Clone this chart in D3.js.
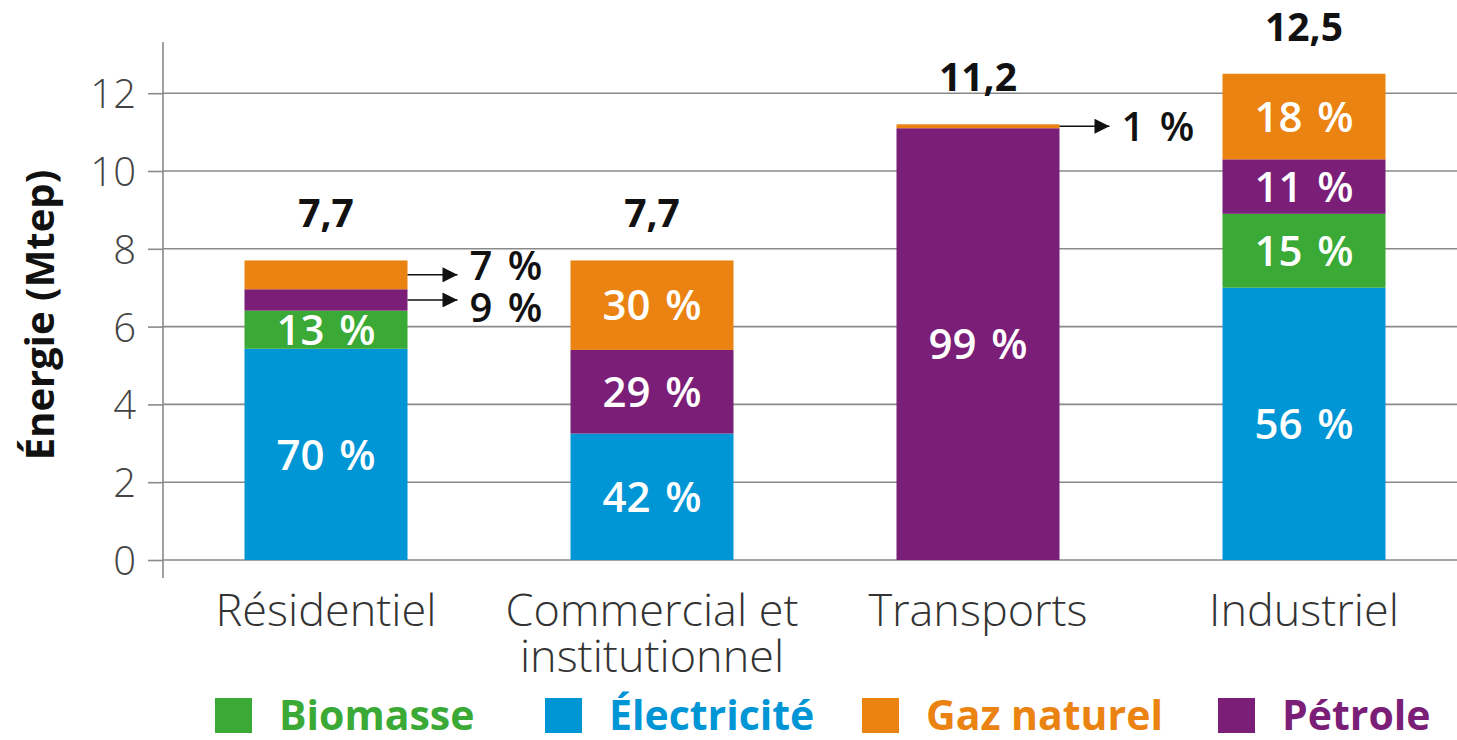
<!DOCTYPE html>
<html>
<head>
<meta charset="utf-8">
<script src="https://cdn.jsdelivr.net/npm/d3@7"></script>
<style>
  body { margin: 0; background: #fff; }
  svg { display: block; }
</style>
</head>
<body>
<div id="chart"></div>
<script>
// données (Mtep)
const categories = ["Résidentiel", "Commercial et institutionnel", "Transports", "Industriel"];
const electricite = [5.43, 3.25, 0, 7.0];
const biomasse = [0.98, 0, 0, 1.9];
const petrole = [0.55, 2.15, 11.1, 1.4];
const gazNaturel = [0.74, 2.3, 0.1, 2.2];
const totals = ["7,7", "7,7", "11,2", "12,5"];

const elecLabels = ["70 %", "42 %", "", "56 %"];
const bioLabels = ["13 %", "", "", "15 %"];
const petLabels = ["9 %", "29 %", "99 %", "11 %"];
const gazLabels = ["7 %", "30 %", "1 %", "18 %"];
// étiquettes placées à l'extérieur avec une flèche
const outsideLabels = [["Résidentiel", "gaz"], ["Résidentiel", "pet"], ["Transports", "gaz"]];

const yTicks = [0, 2, 4, 6, 8, 10, 12];

const seriesKeys = ["elec", "bio", "pet", "gaz"]; // bas -> haut
const seriesNames = { bio: "Biomasse", elec: "Électricité", gaz: "Gaz naturel", pet: "Pétrole" };
const legendOrder = ["bio", "elec", "gaz", "pet"];
const colors = { bio: "#3aa935", elec: "#0096d6", gaz: "#ea8311", pet: "#7b1e78" };
const labelsBySeries = { elec: elecLabels, bio: bioLabels, pet: petLabels, gaz: gazLabels };

//=============================
//  dimensions
//=============================
const width = 1457, height = 740;
const x0 = 163, yBase = 560;

const svg = d3.select("#chart").append("svg")
  .attr("width", width).attr("height", height);

const table = categories.map((c, i) => ({
  cat: c, elec: electricite[i], bio: biomasse[i], pet: petrole[i], gaz: gazNaturel[i]
}));

const stacked = d3.stack().keys(seriesKeys)(table);

const x = d3.scaleBand()
  .domain(categories)
  .range([x0, x0 + 1304])
  .paddingInner(0.5)
  .paddingOuter(0.25);

const y = d3.scaleLinear()
  .domain([0, 12])
  .range([yBase, yBase - 12 * 38.9]);

//============ grille + axe Y ============
const yAxis = svg.append("g")
  .attr("transform", `translate(${x0},0)`)
  .call(d3.axisLeft(y).tickValues(yTicks).tickSize(15).tickPadding(12).tickFormat(d3.format("d")));
yAxis.select(".domain").remove();
yAxis.selectAll(".tick line").attr("stroke", "#8a8a8a").attr("stroke-width", 1.6);
yAxis.selectAll(".tick text")
  .attr("fill", "#444")
  .style("font-family", "'Open Sans', sans-serif")
  .style("font-weight", 300)
  .style("font-size", "40px")
  .attr("dy", "0.36em");

svg.append("g")
  .selectAll("line")
  .data(yTicks)
  .join("line")
  .attr("x1", x0).attr("x2", width)
  .attr("y1", d => y(d)).attr("y2", d => y(d))
  .attr("stroke", "#8a8a8a").attr("stroke-width", 1.6);

svg.append("line")
  .attr("x1", x0).attr("x2", x0)
  .attr("y1", 42).attr("y2", 578)
  .attr("stroke", "#8a8a8a").attr("stroke-width", 1.6);

// titre axe Y
svg.append("text")
  .attr("transform", `translate(54, 315) rotate(-90)`)
  .attr("text-anchor", "middle")
  .style("font-family", "'Liberation Sans Narrow', 'Open Sans', sans-serif")
  .style("font-weight", 700)
  .style("font-size", "40px")
  .attr("fill", "#111")
  .text("Énergie (Mtep)");

//============ barres empilées ============
const layers = svg.append("g")
  .selectAll("g")
  .data(stacked)
  .join("g")
  .attr("fill", d => colors[d.key]);

layers.selectAll("rect")
  .data(d => d.map(p => ({ key: d.key, p })))
  .join("rect")
  .attr("x", d => x(d.p.data.cat))
  .attr("width", x.bandwidth())
  .attr("y", d => y(d.p[1]))
  .attr("height", d => y(d.p[0]) - y(d.p[1]));

// étiquettes de pourcentage
const isOutside = (cat, key) => outsideLabels.some(o => o[0] === cat && o[1] === key);

const segs = [];
stacked.forEach(layer => {
  layer.forEach((p, i) => {
    const label = labelsBySeries[layer.key][i];
    if (label) segs.push({ key: layer.key, cat: p.data.cat, lo: p[0], hi: p[1], label });
  });
});

svg.append("g")
  .selectAll("text")
  .data(segs.filter(d => !isOutside(d.cat, d.key)))
  .join("text")
  .attr("x", d => x(d.cat) + x.bandwidth() / 2)
  .attr("y", d => y((d.lo + d.hi) / 2))
  .attr("dy", "0.36em")
  .attr("text-anchor", "middle")
  .attr("fill", "#fff")
  .style("font-family", "'Open Sans', sans-serif")
  .style("font-weight", 600)
  .style("font-size", "42px")
  .style("word-spacing", "4px")
  .text(d => d.label);

// flèches
svg.append("defs").append("marker")
  .attr("id", "arrow")
  .attr("viewBox", "0 0 10 10")
  .attr("refX", 10).attr("refY", 5)
  .attr("markerWidth", 22).attr("markerHeight", 15)
  .attr("markerUnits", "userSpaceOnUse")
  .attr("orient", "auto")
  .append("path")
  .attr("d", "M0,0L10,5L0,10Z")
  .attr("fill", "#111");

const outs = segs.filter(d => isOutside(d.cat, d.key));
const outG = svg.append("g");
outs.forEach(d => {
  const xr = x(d.cat) + x.bandwidth();
  const ym = y((d.lo + d.hi) / 2);
  outG.append("line")
    .attr("x1", xr).attr("x2", xr + 50)
    .attr("y1", ym).attr("y2", ym)
    .attr("stroke", "#111").attr("stroke-width", 1.5)
    .attr("marker-end", "url(#arrow)");
  let shift = 0;
  if (d.cat === "Résidentiel") shift = d.key === "pet" ? 8 : -9;
  outG.append("text")
    .attr("x", xr + 62)
    .attr("y", ym + shift)
    .attr("dy", "0.36em")
    .attr("fill", "#111")
    .style("font-family", "'Open Sans', sans-serif")
    .style("font-weight", 600)
    .style("font-size", "40px")
    .style("word-spacing", "5px")
    .text(d.label);
});

// totaux
const topOf = stacked[stacked.length - 1];
svg.append("g")
  .selectAll("text")
  .data(topOf)
  .join("text")
  .attr("x", d => x(d.data.cat) + x.bandwidth() / 2)
  .attr("y", d => y(d[1]) - 33)
  .attr("text-anchor", "middle")
  .attr("fill", "#111")
  .style("font-family", "'Liberation Sans Narrow', 'Open Sans', sans-serif")
  .style("font-weight", 700)
  .style("font-size", "39px")
  .text((d, i) => totals[i]);

//============ axe X (étiquettes) ============
const xLab = svg.append("g")
  .selectAll("text")
  .data(categories)
  .join("text")
  .attr("x", d => x(d) + x.bandwidth() / 2)
  .attr("y", 626)
  .attr("text-anchor", "middle")
  .attr("fill", "#333")
  .style("font-family", "'Open Sans', sans-serif")
  .style("font-weight", 300)
  .style("font-size", "45px");

xLab.each(function (d) {
  const t = d3.select(this);
  const lines = d === "Commercial et institutionnel" ? ["Commercial et", "institutionnel"] : [d];
  lines.forEach((l, i) => {
    t.append("tspan")
      .attr("x", x(d) + x.bandwidth() / 2)
      .attr("dy", i === 0 ? 0 : "1.02em")
      .text(l);
  });
});

//============ légende ============
const legendX = { bio: 215, elec: 545, gaz: 862, pet: 1218 };
const legend = svg.append("g")
  .selectAll("g")
  .data(legendOrder)
  .join("g")
  .attr("transform", d => `translate(${legendX[d]}, 698)`);

legend.append("rect")
  .attr("width", 37).attr("height", 35)
  .attr("fill", d => colors[d]);

legend.append("text")
  .attr("x", 64)
  .attr("y", 17)
  .attr("dy", "0.36em")
  .attr("fill", d => colors[d])
  .style("font-family", "'Open Sans', sans-serif")
  .style("font-weight", 700)
  .style("font-size", "41px")
  .text(d => seriesNames[d]);
</script>
</body>
</html>
